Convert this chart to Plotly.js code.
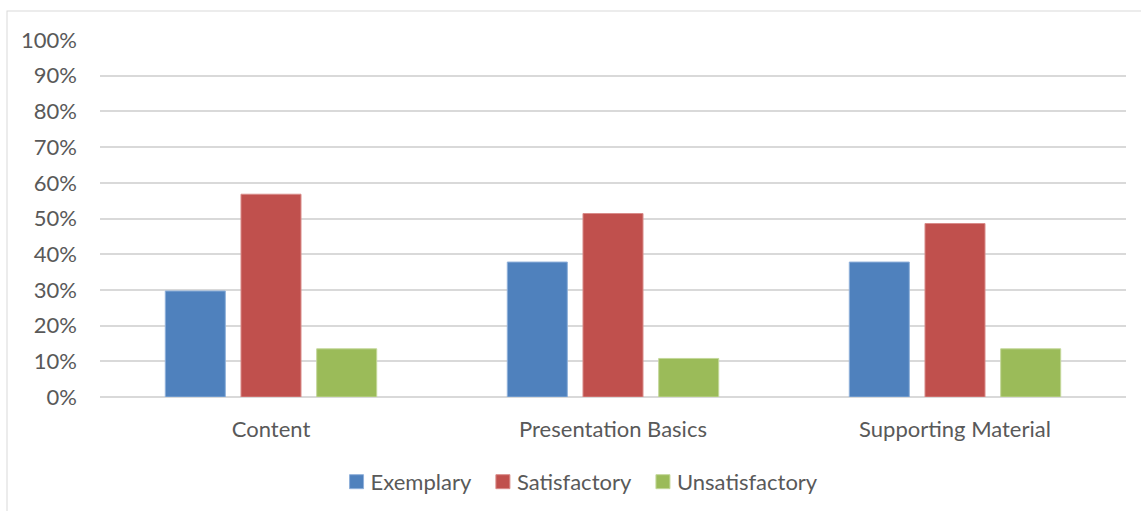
<!DOCTYPE html>
<html>
<head>
<meta charset="utf-8">
<script src="https://cdn.plot.ly/plotly-3.0.1.min.js"></script>
<style>
  html, body { margin: 0; padding: 0; background: #ffffff; }
  #chart { width: 1141px; height: 511px; }
</style>
</head>
<body>
<div id="chart"></div>
<script>
// Rubric categories and share of ratings in each level
const categories = ['Content', 'Presentation Basics', 'Supporting Material'];
const exemplary = [0.297, 0.378, 0.378];
const satisfactory = [0.568, 0.514, 0.486];
const unsatisfactory = [0.135, 0.108, 0.135];
const yTicks = [0, 0.1, 0.2, 0.3, 0.4, 0.5, 0.6, 0.7, 0.8, 0.9, 1.0];
const yTickLabels = ['0%', '10%', '20%', '30%', '40%', '50%', '60%', '70%', '80%', '90%', '100%'];

const textColor = '#595959';
const fontFamily = 'Lato, "Open Sans", sans-serif';

function series(name, values, color, edge) {
  return {
    type: 'bar',
    name: name,
    x: categories,
    y: values,
    marker: { color: color, line: { color: edge, width: 1 } },
    hoverinfo: 'x+y+name'
  };
}

const data = [
  series('Exemplary', exemplary, '#4F81BD', '#8FB0DA'),
  series('Satisfactory', satisfactory, '#C0504D', '#D98C8A'),
  series('Unsatisfactory', unsatisfactory, '#9BBB59', '#C3D89A')
];

const layout = {
  width: 1141,
  height: 511,
  margin: { l: 100, r: 15, t: 40, b: 113.5 },
  paper_bgcolor: '#ffffff',
  plot_bgcolor: '#ffffff',
  font: { family: fontFamily, size: 22, color: textColor },
  barmode: 'group',
  bargap: 0.336,
  bargroupgap: 0.207,
  showlegend: true,
  legend: {
    orientation: 'h',
    xref: 'container',
    yref: 'container',
    x: 0.511,
    xanchor: 'center',
    y: 0.057,
    yanchor: 'middle',
    font: { family: fontFamily, size: 22, color: textColor },
    itemwidth: 30,
    traceorder: 'normal'
  },
  xaxis: {
    type: 'category',
    showgrid: false,
    zeroline: false,
    showline: false,
    ticks: '',
    tickfont: { family: fontFamily, size: 22, color: textColor },
    ticklabelstandoff: 17
  },
  yaxis: {
    range: [0, 1.0],
    tickvals: yTicks,
    ticktext: yTickLabels,
    showgrid: true,
    gridcolor: '#D9D9D9',
    gridwidth: 1.5,
    zeroline: true,
    zerolinecolor: '#D9D9D9',
    zerolinewidth: 1.5,
    showline: false,
    ticks: '',
    tickfont: { family: fontFamily, size: 22, color: textColor },
    ticklabelstandoff: 22,
    fixedrange: true
  }
};

Plotly.newPlot('chart', data, layout, { displayModeBar: false }).then(function (gd) {
  const ns = 'http://www.w3.org/2000/svg';
  // Slightly larger square legend swatches, labels closer to them
  gd.querySelectorAll('.legendpoints path').forEach(function (p) {
    p.setAttribute('d', 'M7,7H-7V-7H7Z');
  });
  gd.querySelectorAll('.legendtext').forEach(function (t) {
    t.setAttribute('x', 34);
  });
  // Light frame around the whole chart area
  const svg = gd.querySelector('.main-svg');
  const frame = document.createElementNS(ns, 'rect');
  frame.setAttribute('x', 7);
  frame.setAttribute('y', 11);
  frame.setAttribute('width', 1150);
  frame.setAttribute('height', 520);
  frame.setAttribute('fill', 'none');
  frame.setAttribute('stroke', '#D9D9D9');
  frame.setAttribute('stroke-width', 1);
  svg.appendChild(frame);
});
</script>
</body>
</html>
